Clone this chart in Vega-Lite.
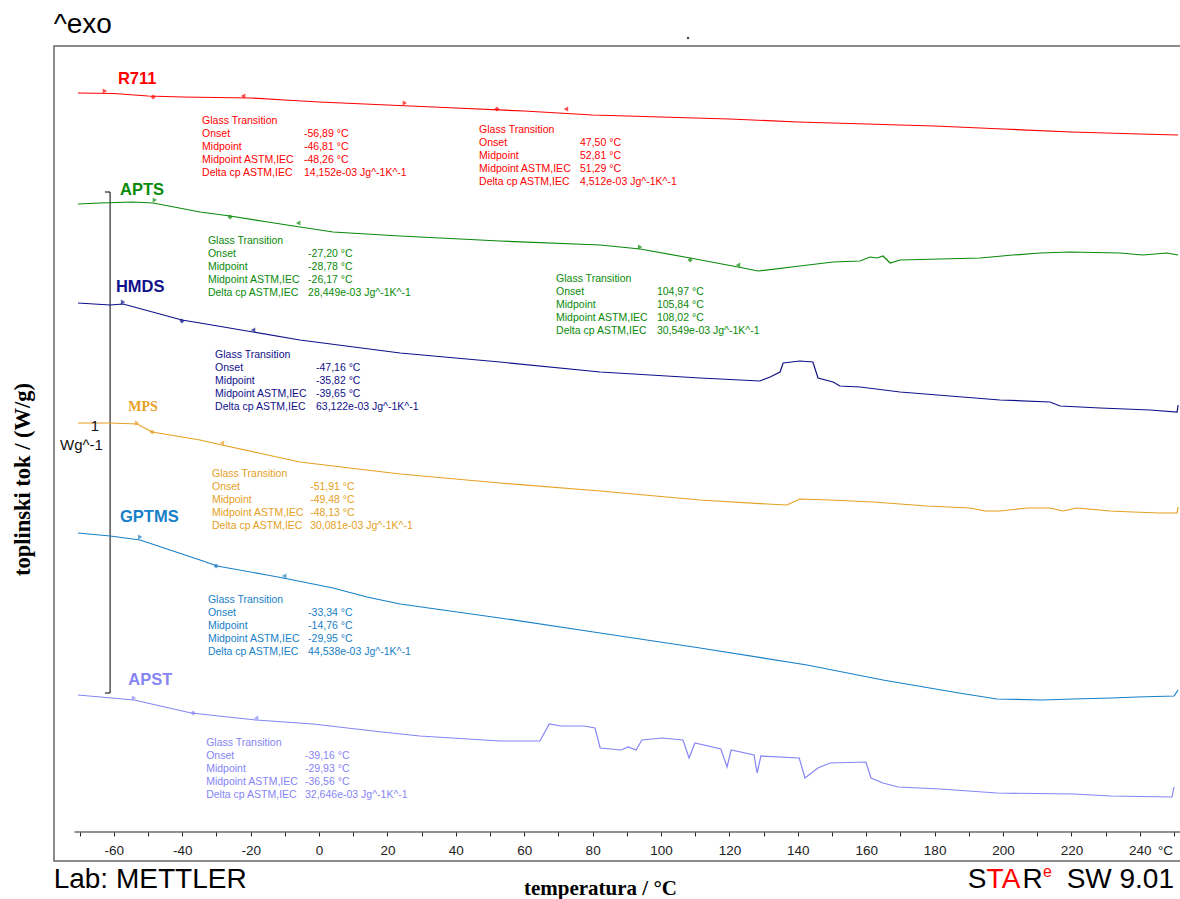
{
  "$schema": "https://vega.github.io/schema/vega-lite/v6.json",
  "width": 1127,
  "height": 815,
  "autosize": {"type": "none"},
  "padding": {"left": 54, "top": 46, "right": 0, "bottom": 38},
  "background": "white",
  "config": {"view": {"stroke": "#666666", "strokeWidth": 1.5}, "font": "Liberation Sans"},
  "datasets": {
    "curves": [
      {"s":"R711","t":-70.5,"v":1536},{"s":"R711","t":-60,"v":1535},{"s":"R711","t":-50,"v":1530},{"s":"R711","t":-40,"v":1528},{"s":"R711","t":-30,"v":1527},{"s":"R711","t":-20,"v":1526},{"s":"R711","t":-10,"v":1522},{"s":"R711","t":0,"v":1518},{"s":"R711","t":20,"v":1512},{"s":"R711","t":40,"v":1506},{"s":"R711","t":60,"v":1500},{"s":"R711","t":80,"v":1492},{"s":"R711","t":100,"v":1488},{"s":"R711","t":120,"v":1484},{"s":"R711","t":140,"v":1478},{"s":"R711","t":160,"v":1474},{"s":"R711","t":180,"v":1470},{"s":"R711","t":200,"v":1464},{"s":"R711","t":220,"v":1458},{"s":"R711","t":240,"v":1454},{"s":"R711","t":251.2,"v":1452},

      {"s":"APTS","t":-70.5,"v":1314},{"s":"APTS","t":-64,"v":1316},{"s":"APTS","t":-54.4,"v":1318},{"s":"APTS","t":-48.5,"v":1316},{"s":"APTS","t":-34.8,"v":1298},{"s":"APTS","t":-26,"v":1290},{"s":"APTS","t":-15,"v":1278},{"s":"APTS","t":-5.6,"v":1268},{"s":"APTS","t":4.1,"v":1258},{"s":"APTS","t":23.7,"v":1250},{"s":"APTS","t":52.9,"v":1240},{"s":"APTS","t":82.2,"v":1232},{"s":"APTS","t":93.9,"v":1224},{"s":"APTS","t":108.5,"v":1206},{"s":"APTS","t":122.5,"v":1188},{"s":"APTS","t":128.4,"v":1180},{"s":"APTS","t":140.6,"v":1190},{"s":"APTS","t":150.3,"v":1198},{"s":"APTS","t":158.2,"v":1200},{"s":"APTS","t":161.1,"v":1208},{"s":"APTS","t":163.2,"v":1206},{"s":"APTS","t":164.9,"v":1210},{"s":"APTS","t":167,"v":1196},{"s":"APTS","t":169.9,"v":1202},{"s":"APTS","t":181.6,"v":1204},{"s":"APTS","t":193.3,"v":1206},{"s":"APTS","t":202.9,"v":1212},{"s":"APTS","t":210.8,"v":1216},{"s":"APTS","t":219.6,"v":1218},{"s":"APTS","t":234.2,"v":1216},{"s":"APTS","t":240.9,"v":1212},{"s":"APTS","t":247.9,"v":1216},{"s":"APTS","t":251.2,"v":1212},

      {"s":"HMDS","t":-70.5,"v":1116},{"s":"HMDS","t":-61.1,"v":1112},{"s":"HMDS","t":-57.3,"v":1114},{"s":"HMDS","t":-40.1,"v":1082},{"s":"HMDS","t":-34.8,"v":1076},{"s":"HMDS","t":-19.3,"v":1058},{"s":"HMDS","t":-5.6,"v":1042},{"s":"HMDS","t":23.7,"v":1016},{"s":"HMDS","t":52.9,"v":998},{"s":"HMDS","t":82.2,"v":978},{"s":"HMDS","t":111.4,"v":966},{"s":"HMDS","t":128.9,"v":960},{"s":"HMDS","t":131.9,"v":968},{"s":"HMDS","t":134.8,"v":978},{"s":"HMDS","t":135.7,"v":996},{"s":"HMDS","t":140.6,"v":1000},{"s":"HMDS","t":144.4,"v":998},{"s":"HMDS","t":145.9,"v":966},{"s":"HMDS","t":150.3,"v":958},{"s":"HMDS","t":152.3,"v":950},{"s":"HMDS","t":158.2,"v":948},{"s":"HMDS","t":169.9,"v":938},{"s":"HMDS","t":184.5,"v":930},{"s":"HMDS","t":199.1,"v":922},{"s":"HMDS","t":213.7,"v":918},{"s":"HMDS","t":216.7,"v":910},{"s":"HMDS","t":228.4,"v":906},{"s":"HMDS","t":243,"v":902},{"s":"HMDS","t":250.9,"v":898},{"s":"HMDS","t":251.2,"v":912},

      {"s":"MPS","t":-70.5,"v":876},{"s":"MPS","t":-61.1,"v":876},{"s":"MPS","t":-53.2,"v":874},{"s":"MPS","t":-48.8,"v":858},{"s":"MPS","t":-34.8,"v":842},{"s":"MPS","t":-28.4,"v":832},{"s":"MPS","t":-15,"v":812},{"s":"MPS","t":-5.6,"v":798},{"s":"MPS","t":23.7,"v":774},{"s":"MPS","t":52.9,"v":756},{"s":"MPS","t":82.2,"v":740},{"s":"MPS","t":111.4,"v":722},{"s":"MPS","t":131,"v":714},{"s":"MPS","t":136.8,"v":712},{"s":"MPS","t":140.6,"v":724},{"s":"MPS","t":149.4,"v":722},{"s":"MPS","t":162,"v":718},{"s":"MPS","t":177.8,"v":710},{"s":"MPS","t":190.4,"v":706},{"s":"MPS","t":194.7,"v":700},{"s":"MPS","t":199.1,"v":700},{"s":"MPS","t":207,"v":706},{"s":"MPS","t":213.7,"v":706},{"s":"MPS","t":217.5,"v":700},{"s":"MPS","t":221.6,"v":706},{"s":"MPS","t":231.3,"v":700},{"s":"MPS","t":238,"v":698},{"s":"MPS","t":245.9,"v":696},{"s":"MPS","t":250.9,"v":696},{"s":"MPS","t":251.2,"v":708},

      {"s":"GPTMS","t":-70.5,"v":656},{"s":"GPTMS","t":-61.1,"v":650},{"s":"GPTMS","t":-52.3,"v":642},{"s":"GPTMS","t":-34.8,"v":602},{"s":"GPTMS","t":-29.8,"v":590},{"s":"GPTMS","t":-15.2,"v":572},{"s":"GPTMS","t":-10.5,"v":566},{"s":"GPTMS","t":4.1,"v":546},{"s":"GPTMS","t":14,"v":528},{"s":"GPTMS","t":23.7,"v":514},{"s":"GPTMS","t":52.9,"v":486},{"s":"GPTMS","t":82.2,"v":456},{"s":"GPTMS","t":111.4,"v":426},{"s":"GPTMS","t":142.7,"v":392},{"s":"GPTMS","t":164.9,"v":362},{"s":"GPTMS","t":187.1,"v":336},{"s":"GPTMS","t":198.2,"v":324},{"s":"GPTMS","t":211.4,"v":322},{"s":"GPTMS","t":220.5,"v":324},{"s":"GPTMS","t":231.6,"v":326},{"s":"GPTMS","t":239.2,"v":328},{"s":"GPTMS","t":250,"v":330},{"s":"GPTMS","t":251.2,"v":342},

      {"s":"APST","t":-70.5,"v":332},{"s":"APST","t":-54.1,"v":322},{"s":"APST","t":-37.4,"v":296},{"s":"APST","t":-18.4,"v":282},{"s":"APST","t":-1.8,"v":274},{"s":"APST","t":18.4,"v":258},{"s":"APST","t":29.5,"v":250},{"s":"APST","t":52.9,"v":240},{"s":"APST","t":64.6,"v":240},{"s":"APST","t":67.3,"v":274},{"s":"APST","t":70.8,"v":270},{"s":"APST","t":77.5,"v":270},{"s":"APST","t":80.7,"v":266},{"s":"APST","t":82.2,"v":226},{"s":"APST","t":88.3,"v":222},{"s":"APST","t":90.4,"v":228},{"s":"APST","t":92.7,"v":222},{"s":"APST","t":94.4,"v":242},{"s":"APST","t":100.3,"v":246},{"s":"APST","t":106.4,"v":242},{"s":"APST","t":108.2,"v":206},{"s":"APST","t":109.9,"v":236},{"s":"APST","t":117.5,"v":224},{"s":"APST","t":119.3,"v":188},{"s":"APST","t":120.5,"v":222},{"s":"APST","t":127.2,"v":212},{"s":"APST","t":128.1,"v":176},{"s":"APST","t":129.2,"v":210},{"s":"APST","t":140.4,"v":206},{"s":"APST","t":142.1,"v":166},{"s":"APST","t":145.9,"v":186},{"s":"APST","t":149.4,"v":196},{"s":"APST","t":159.9,"v":198},{"s":"APST","t":161.4,"v":166},{"s":"APST","t":164.9,"v":156},{"s":"APST","t":169.3,"v":148},{"s":"APST","t":181.6,"v":144},{"s":"APST","t":198.2,"v":136},{"s":"APST","t":220.5,"v":134},{"s":"APST","t":231.6,"v":130},{"s":"APST","t":249.4,"v":128},{"s":"APST","t":250,"v":148}
    ],
    "markers": [
      {"s":"R711","m":"on","t":-62.6,"v":1540},{"s":"R711","m":"mid","t":-48.5,"v":1528},{"s":"R711","m":"end","t":-22.2,"v":1530},
      {"s":"R711","m":"on","t":25.1,"v":1516},{"s":"R711","m":"mid","t":52,"v":1504},{"s":"R711","m":"end","t":72.2,"v":1504},
      {"s":"APTS","m":"on","t":-48,"v":1322},{"s":"APTS","m":"mid","t":-26,"v":1288},{"s":"APTS","m":"end","t":-6.1,"v":1276},
      {"s":"APTS","m":"on","t":93.9,"v":1228},{"s":"APTS","m":"mid","t":108.5,"v":1202},{"s":"APTS","m":"end","t":122.5,"v":1192},
      {"s":"HMDS","m":"on","t":-57.3,"v":1118},{"s":"HMDS","m":"mid","t":-40.1,"v":1080},{"s":"HMDS","m":"end","t":-19.3,"v":1062},
      {"s":"MPS","m":"on","t":-53.2,"v":876},{"s":"MPS","m":"mid","t":-48.8,"v":858},{"s":"MPS","m":"end","t":-28.4,"v":836},
      {"s":"GPTMS","m":"on","t":-52.3,"v":648},{"s":"GPTMS","m":"mid","t":-30.1,"v":590},{"s":"GPTMS","m":"end","t":-10.2,"v":570},
      {"s":"APST","m":"on","t":-54.1,"v":326},{"s":"APST","m":"mid","t":-36.8,"v":296},{"s":"APST","m":"end","t":-18.4,"v":286}
    ],
    "notes": [
      {"s":"R711","t":-34.2,"v":1480,"txt":"Glass Transition"},{"s":"R711","t":-34.2,"v":1454,"txt":"Onset"},{"s":"R711","t":-34.2,"v":1428,"txt":"Midpoint"},{"s":"R711","t":-34.2,"v":1402,"txt":"Midpoint ASTM,IEC"},{"s":"R711","t":-34.2,"v":1376,"txt":"Delta cp ASTM,IEC"},
      {"s":"R711","t":-4.4,"v":1454,"txt":"-56,89 °C"},{"s":"R711","t":-4.4,"v":1428,"txt":"-46,81 °C"},{"s":"R711","t":-4.4,"v":1402,"txt":"-48,26 °C"},{"s":"R711","t":-4.4,"v":1376,"txt":"14,152e-03 Jg^-1K^-1"},

      {"s":"R711","t":46.8,"v":1462,"txt":"Glass Transition"},{"s":"R711","t":46.8,"v":1436,"txt":"Onset"},{"s":"R711","t":46.8,"v":1410,"txt":"Midpoint"},{"s":"R711","t":46.8,"v":1384,"txt":"Midpoint ASTM,IEC"},{"s":"R711","t":46.8,"v":1358,"txt":"Delta cp ASTM,IEC"},
      {"s":"R711","t":76.3,"v":1436,"txt":"47,50 °C"},{"s":"R711","t":76.3,"v":1410,"txt":"52,81 °C"},{"s":"R711","t":76.3,"v":1384,"txt":"51,29 °C"},{"s":"R711","t":76.3,"v":1358,"txt":"4,512e-03 Jg^-1K^-1"},

      {"s":"APTS","t":-32.5,"v":1240,"txt":"Glass Transition"},{"s":"APTS","t":-32.5,"v":1214,"txt":"Onset"},{"s":"APTS","t":-32.5,"v":1188,"txt":"Midpoint"},{"s":"APTS","t":-32.5,"v":1162,"txt":"Midpoint ASTM,IEC"},{"s":"APTS","t":-32.5,"v":1136,"txt":"Delta cp ASTM,IEC"},
      {"s":"APTS","t":-3.2,"v":1214,"txt":"-27,20 °C"},{"s":"APTS","t":-3.2,"v":1188,"txt":"-28,78 °C"},{"s":"APTS","t":-3.2,"v":1162,"txt":"-26,17 °C"},{"s":"APTS","t":-3.2,"v":1136,"txt":"28,449e-03 Jg^-1K^-1"},

      {"s":"APTS","t":69.3,"v":1164,"txt":"Glass Transition"},{"s":"APTS","t":69.3,"v":1138,"txt":"Onset"},{"s":"APTS","t":69.3,"v":1112,"txt":"Midpoint"},{"s":"APTS","t":69.3,"v":1086,"txt":"Midpoint ASTM,IEC"},{"s":"APTS","t":69.3,"v":1060,"txt":"Delta cp ASTM,IEC"},
      {"s":"APTS","t":98.8,"v":1138,"txt":"104,97 °C"},{"s":"APTS","t":98.8,"v":1112,"txt":"105,84 °C"},{"s":"APTS","t":98.8,"v":1086,"txt":"108,02 °C"},{"s":"APTS","t":98.8,"v":1060,"txt":"30,549e-03 Jg^-1K^-1"},

      {"s":"HMDS","t":-30.4,"v":1012,"txt":"Glass Transition"},{"s":"HMDS","t":-30.4,"v":986,"txt":"Onset"},{"s":"HMDS","t":-30.4,"v":960,"txt":"Midpoint"},{"s":"HMDS","t":-30.4,"v":934,"txt":"Midpoint ASTM,IEC"},{"s":"HMDS","t":-30.4,"v":908,"txt":"Delta cp ASTM,IEC"},
      {"s":"HMDS","t":-0.9,"v":986,"txt":"-47,16 °C"},{"s":"HMDS","t":-0.9,"v":960,"txt":"-35,82 °C"},{"s":"HMDS","t":-0.9,"v":934,"txt":"-39,65 °C"},{"s":"HMDS","t":-0.9,"v":908,"txt":"63,122e-03 Jg^-1K^-1"},

      {"s":"MPS","t":-31.3,"v":774,"txt":"Glass Transition"},{"s":"MPS","t":-31.3,"v":748,"txt":"Onset"},{"s":"MPS","t":-31.3,"v":722,"txt":"Midpoint"},{"s":"MPS","t":-31.3,"v":696,"txt":"Midpoint ASTM,IEC"},{"s":"MPS","t":-31.3,"v":670,"txt":"Delta cp ASTM,IEC"},
      {"s":"MPS","t":-2.6,"v":748,"txt":"-51,91 °C"},{"s":"MPS","t":-2.6,"v":722,"txt":"-49,48 °C"},{"s":"MPS","t":-2.6,"v":696,"txt":"-48,13 °C"},{"s":"MPS","t":-2.6,"v":670,"txt":"30,081e-03 Jg^-1K^-1"},

      {"s":"GPTMS","t":-32.5,"v":522,"txt":"Glass Transition"},{"s":"GPTMS","t":-32.5,"v":496,"txt":"Onset"},{"s":"GPTMS","t":-32.5,"v":470,"txt":"Midpoint"},{"s":"GPTMS","t":-32.5,"v":444,"txt":"Midpoint ASTM,IEC"},{"s":"GPTMS","t":-32.5,"v":418,"txt":"Delta cp ASTM,IEC"},
      {"s":"GPTMS","t":-3.2,"v":496,"txt":"-33,34 °C"},{"s":"GPTMS","t":-3.2,"v":470,"txt":"-14,76 °C"},{"s":"GPTMS","t":-3.2,"v":444,"txt":"-29,95 °C"},{"s":"GPTMS","t":-3.2,"v":418,"txt":"44,538e-03 Jg^-1K^-1"},

      {"s":"APST","t":-33,"v":236,"txt":"Glass Transition"},{"s":"APST","t":-33,"v":210,"txt":"Onset"},{"s":"APST","t":-33,"v":184,"txt":"Midpoint"},{"s":"APST","t":-33,"v":158,"txt":"Midpoint ASTM,IEC"},{"s":"APST","t":-33,"v":132,"txt":"Delta cp ASTM,IEC"},
      {"s":"APST","t":-4.1,"v":210,"txt":"-39,16 °C"},{"s":"APST","t":-4.1,"v":184,"txt":"-29,93 °C"},{"s":"APST","t":-4.1,"v":158,"txt":"-36,56 °C"},{"s":"APST","t":-4.1,"v":132,"txt":"32,646e-03 Jg^-1K^-1"}
    ],
    "names": [
      {"s":"R711","t":-58.8,"v":1564,"txt":"R711"},
      {"s":"APTS","t":-58.2,"v":1342,"txt":"APTS"},
      {"s":"HMDS","t":-59.4,"v":1148,"txt":"HMDS"},
      {"s":"GPTMS","t":-58.2,"v":688,"txt":"GPTMS"},
      {"s":"APST","t":-55.8,"v":362,"txt":"APST"}
    ],
    "serifNames": [
      {"s":"MPS","t":-55.8,"v":908,"txt":"MPS"}
    ],
    "scaleBar": [
      {"t":-61.1,"t2":-61.1,"v":336,"v2":1338},
      {"t":-62.6,"t2":-61.1,"v":1338,"v2":1338},
      {"t":-62.6,"t2":-61.1,"v":336,"v2":336}
    ],
    "scaleText": [
      {"t":-64.3,"v":870,"txt":"1"},
      {"t":-63.2,"v":832,"txt":"Wg^-1"}
    ],
    "axisLine": [
      {"t":-71.5,"t2":252,"v":58}
    ],
    "unitText": [
      {"t":245.3,"v":20,"txt":"°C"}
    ],
    "bigLeft": [
      {"t":-77.6,"v":1672,"txt":"^exo"},
      {"t":-77.6,"v":-38,"txt":"Lab: METTLER"},
      {"t":189.7,"v":-38,"txt":"S"},
      {"t":205.7,"v":-38,"txt":"R"}
    ],
    "bigRed": [
      {"t":195.2,"v":-38,"txt":"TA"}
    ],
    "supRed": [
      {"t":211.7,"v":-22,"txt":"e"}
    ],
    "bigRight": [
      {"t":250.0,"v":-38,"txt":"SW 9.01"}
    ],
    "dot": [
      {"t":107.9,"v":1646}
    ]
  },
  "encoding": {
    "x": {
      "field": "t", "type": "quantitative",
      "scale": {"domain": [-77.5, 252.04], "nice": false, "zero": false},
      "axis": {
        "values": [-70,-60,-50,-40,-30,-20,-10,0,10,20,30,40,50,60,70,80,90,100,110,120,130,140,150,160,170,180,190,200,210,220,230,240,250],
        "domain": false, "grid": false, "offset": -29,
        "tickSize": 4, "tickColor": "#222222", "tickWidth": 1,
        "labelExpr": "datum.value % 20 === 0 ? '' + datum.value : ''",
        "labelFont": "Liberation Sans", "labelFontSize": 13.5, "labelColor": "#222222",
        "labelPadding": 7, "labelFlush": false, "labelOverlap": false,
        "title": "temperatura / °C",
        "titleFont": "Liberation Serif", "titleFontWeight": "bold", "titleFontSize": 21, "titleColor": "#000000",
        "titleX": 546, "titleY": 56, "titleBaseline": "middle", "titleAlign": "center"
      }
    },
    "y": {
      "field": "v", "type": "quantitative",
      "scale": {"domain": [0, 1630], "nice": false, "zero": false},
      "axis": {
        "domain": false, "ticks": false, "labels": false, "grid": false,
        "title": "toplinski tok / (W/g)",
        "titleFont": "Liberation Serif", "titleFontWeight": "bold", "titleFontSize": 22.5, "titleColor": "#000000",
        "titleAngle": 270, "titleX": -32, "titleY": 433, "titleBaseline": "middle", "titleAlign": "center"
      }
    }
  },
  "layer": [
    {
      "data": {"name": "axisLine"},
      "mark": {"type": "rule", "color": "#222222", "strokeWidth": 1},
      "encoding": {"x2": {"field": "t2"}}
    },
    {
      "data": {"name": "scaleBar"},
      "mark": {"type": "rule", "color": "#000000", "strokeWidth": 1},
      "encoding": {"x2": {"field": "t2"}, "y2": {"field": "v2"}}
    },
    {
      "data": {"name": "curves"},
      "mark": {"type": "line", "strokeWidth": 1.2},
      "encoding": {
        "color": {"field": "s", "type": "nominal", "legend": null,
          "scale": {"domain": ["R711","APTS","HMDS","MPS","GPTMS","APST"], "range": ["#ff0000","#0a8a0a","#10108a","#e6a024","#1780c8","#8585f5"]}}
      }
    },
    {
      "data": {"name": "markers"},
      "mark": {"type": "point", "size": 26, "filled": true, "strokeWidth": 1},
      "encoding": {
        "color": {"field": "s", "type": "nominal", "legend": null},
        "shape": {"field": "m", "type": "nominal", "legend": null,
          "scale": {"domain": ["on","mid","end"], "range": ["triangle-right","diamond","triangle-left"]}}
      }
    },
    {
      "data": {"name": "notes"},
      "mark": {"type": "text", "align": "left", "baseline": "middle", "fontSize": 10.5, "font": "Liberation Sans"},
      "encoding": {
        "text": {"field": "txt"},
        "color": {"field": "s", "type": "nominal", "legend": null}
      }
    },
    {
      "data": {"name": "names"},
      "mark": {"type": "text", "align": "left", "baseline": "middle", "fontSize": 16.5, "fontWeight": "bold", "font": "Liberation Sans"},
      "encoding": {
        "text": {"field": "txt"},
        "color": {"field": "s", "type": "nominal", "legend": null}
      }
    },
    {
      "data": {"name": "serifNames"},
      "mark": {"type": "text", "align": "left", "baseline": "middle", "fontSize": 14, "fontWeight": "bold", "font": "Liberation Serif"},
      "encoding": {
        "text": {"field": "txt"},
        "color": {"field": "s", "type": "nominal", "legend": null}
      }
    },
    {
      "data": {"name": "scaleText"},
      "mark": {"type": "text", "align": "right", "baseline": "middle", "fontSize": 15, "font": "Liberation Sans", "color": "#111111"},
      "encoding": {"text": {"field": "txt"}}
    },
    {
      "data": {"name": "unitText"},
      "mark": {"type": "text", "align": "left", "baseline": "middle", "fontSize": 13.5, "font": "Liberation Sans", "color": "#222222"},
      "encoding": {"text": {"field": "txt"}}
    },
    {
      "data": {"name": "bigLeft"},
      "mark": {"type": "text", "align": "left", "baseline": "middle", "fontSize": 28, "font": "Liberation Sans", "color": "#000000"},
      "encoding": {"text": {"field": "txt"}}
    },
    {
      "data": {"name": "bigRed"},
      "mark": {"type": "text", "align": "left", "baseline": "middle", "fontSize": 28, "font": "Liberation Sans", "color": "#ff0000"},
      "encoding": {"text": {"field": "txt"}}
    },
    {
      "data": {"name": "supRed"},
      "mark": {"type": "text", "align": "left", "baseline": "middle", "fontSize": 16, "font": "Liberation Sans", "color": "#ff0000"},
      "encoding": {"text": {"field": "txt"}}
    },
    {
      "data": {"name": "bigRight"},
      "mark": {"type": "text", "align": "right", "baseline": "middle", "fontSize": 28, "font": "Liberation Sans", "color": "#000000"},
      "encoding": {"text": {"field": "txt"}}
    },
    {
      "data": {"name": "dot"},
      "mark": {"type": "point", "shape": "square", "size": 5, "filled": true, "color": "#000000"}
    }
  ]
}
